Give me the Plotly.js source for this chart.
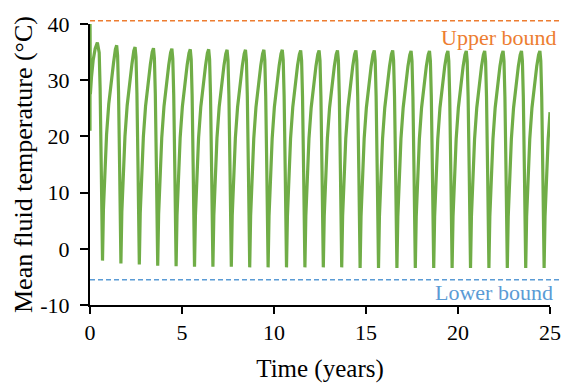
<!DOCTYPE html>
<html>
<head>
<meta charset="utf-8">
<script src="https://cdn.plot.ly/plotly-3.0.1.min.js"></script>
<style>html,body{margin:0;padding:0;background:#fff;}#chart{width:563px;height:383px;}</style>
</head>
<body>
<div id="chart"></div>
<script>
// Time in years
const time = [
 0, 0.003, 0.02, 0.08, 0.17, 0.28, 0.40,
 0.50, 0.55, 0.61, 0.68, 0.73, 0.80, 0.90, 1.02, 1.15, 1.28, 1.38, 1.45,
 1.50, 1.55, 1.61, 1.68, 1.73, 1.80, 1.90, 2.02, 2.15, 2.28, 2.38, 2.45,
 2.50, 2.55, 2.61, 2.68, 2.73, 2.80, 2.90, 3.02, 3.15, 3.28, 3.38, 3.45,
 3.50, 3.55, 3.61, 3.68, 3.73, 3.80, 3.90, 4.02, 4.15, 4.28, 4.38, 4.45,
 4.50, 4.55, 4.61, 4.68, 4.73, 4.80, 4.90, 5.02, 5.15, 5.28, 5.38, 5.45,
 5.50, 5.55, 5.61, 5.68, 5.73, 5.80, 5.90, 6.02, 6.15, 6.28, 6.38, 6.45,
 6.50, 6.55, 6.61, 6.68, 6.73, 6.80, 6.90, 7.02, 7.15, 7.28, 7.38, 7.45,
 7.50, 7.55, 7.61, 7.68, 7.73, 7.80, 7.90, 8.02, 8.15, 8.28, 8.38, 8.45,
 8.50, 8.55, 8.61, 8.68, 8.73, 8.80, 8.90, 9.02, 9.15, 9.28, 9.38, 9.45,
 9.50, 9.55, 9.61, 9.68, 9.73, 9.80, 9.90, 10.02, 10.15, 10.28, 10.38, 10.45,
 10.50, 10.55, 10.61, 10.68, 10.73, 10.80, 10.90, 11.02, 11.15, 11.28, 11.38, 11.45,
 11.50, 11.55, 11.61, 11.68, 11.73, 11.80, 11.90, 12.02, 12.15, 12.28, 12.38, 12.45,
 12.50, 12.55, 12.61, 12.68, 12.73, 12.80, 12.90, 13.02, 13.15, 13.28, 13.38, 13.45,
 13.50, 13.55, 13.61, 13.68, 13.73, 13.80, 13.90, 14.02, 14.15, 14.28, 14.38, 14.45,
 14.50, 14.55, 14.61, 14.68, 14.73, 14.80, 14.90, 15.02, 15.15, 15.28, 15.38, 15.45,
 15.50, 15.55, 15.61, 15.68, 15.73, 15.80, 15.90, 16.02, 16.15, 16.28, 16.38, 16.45,
 16.50, 16.55, 16.61, 16.68, 16.73, 16.80, 16.90, 17.02, 17.15, 17.28, 17.38, 17.45,
 17.50, 17.55, 17.61, 17.68, 17.73, 17.80, 17.90, 18.02, 18.15, 18.28, 18.38, 18.45,
 18.50, 18.55, 18.61, 18.68, 18.73, 18.80, 18.90, 19.02, 19.15, 19.28, 19.38, 19.45,
 19.50, 19.55, 19.61, 19.68, 19.73, 19.80, 19.90, 20.02, 20.15, 20.28, 20.38, 20.45,
 20.50, 20.55, 20.61, 20.68, 20.73, 20.80, 20.90, 21.02, 21.15, 21.28, 21.38, 21.45,
 21.50, 21.55, 21.61, 21.68, 21.73, 21.80, 21.90, 22.02, 22.15, 22.28, 22.38, 22.45,
 22.50, 22.55, 22.61, 22.68, 22.73, 22.80, 22.90, 23.02, 23.15, 23.28, 23.38, 23.45,
 23.50, 23.55, 23.61, 23.68, 23.73, 23.80, 23.90, 24.02, 24.15, 24.28, 24.38, 24.45,
 24.50, 24.55, 24.61, 24.68, 24.73, 24.80, 24.90, 25.00
];

// Mean fluid temperature (°C)
const temperature = [
 21, 40, 27.5, 30.5, 33.5, 35.6, 36.7,
 34.9, 28.5, 15.0, -2.1, 7.0, 13.8, 20.3, 25.8, 30.0, 33.1, 35.5, 36.2,
 34.4, 28.0, 14.6, -2.6, 6.5, 13.5, 20.0, 25.5, 29.8, 32.9, 35.2, 35.9,
 34.1, 27.7, 14.4, -2.8, 6.3, 13.4, 19.9, 25.4, 29.7, 32.8, 35.0, 35.7,
 33.9, 27.5, 14.2, -3.0, 6.1, 13.3, 19.8, 25.3, 29.6, 32.7, 34.9, 35.6,
 33.8, 27.4, 14.1, -3.1, 6.0, 13.2, 19.8, 25.3, 29.6, 32.7, 34.8, 35.5,
 33.7, 27.3, 14.0, -3.2, 5.9, 13.2, 19.7, 25.2, 29.5, 32.6, 34.8, 35.5,
 33.7, 27.3, 14.0, -3.2, 5.9, 13.2, 19.7, 25.2, 29.5, 32.6, 34.7, 35.4,
 33.6, 27.2, 13.9, -3.2, 5.9, 13.1, 19.7, 25.2, 29.5, 32.6, 34.7, 35.4,
 33.6, 27.2, 13.9, -3.3, 5.8, 13.1, 19.6, 25.2, 29.5, 32.6, 34.7, 35.4,
 33.6, 27.2, 13.9, -3.3, 5.8, 13.1, 19.6, 25.2, 29.5, 32.6, 34.7, 35.4,
 33.6, 27.2, 13.9, -3.3, 5.8, 13.1, 19.6, 25.2, 29.5, 32.6, 34.6, 35.3,
 33.5, 27.1, 13.8, -3.3, 5.8, 13.1, 19.6, 25.1, 29.4, 32.5, 34.6, 35.3,
 33.5, 27.1, 13.8, -3.3, 5.8, 13.1, 19.6, 25.1, 29.4, 32.5, 34.6, 35.3,
 33.5, 27.1, 13.8, -3.3, 5.8, 13.1, 19.6, 25.1, 29.4, 32.5, 34.6, 35.3,
 33.5, 27.1, 13.8, -3.4, 5.7, 13.0, 19.6, 25.1, 29.4, 32.5, 34.6, 35.3,
 33.5, 27.1, 13.8, -3.4, 5.7, 13.0, 19.6, 25.1, 29.4, 32.5, 34.6, 35.3,
 33.5, 27.1, 13.8, -3.4, 5.7, 13.0, 19.6, 25.1, 29.4, 32.5, 34.5, 35.2,
 33.4, 27.0, 13.7, -3.4, 5.7, 13.0, 19.5, 25.1, 29.4, 32.5, 34.5, 35.2,
 33.4, 27.0, 13.7, -3.4, 5.7, 13.0, 19.5, 25.1, 29.4, 32.5, 34.5, 35.2,
 33.4, 27.0, 13.7, -3.4, 5.7, 13.0, 19.5, 25.1, 29.4, 32.5, 34.5, 35.2,
 33.4, 27.0, 13.7, -3.4, 5.7, 13.0, 19.5, 25.1, 29.4, 32.5, 34.5, 35.2,
 33.4, 27.0, 13.7, -3.4, 5.7, 13.0, 19.5, 25.1, 29.4, 32.5, 34.5, 35.2,
 33.4, 27.0, 13.7, -3.4, 5.7, 13.0, 19.5, 25.1, 29.4, 32.5, 34.5, 35.2,
 33.4, 27.0, 13.7, -3.4, 5.7, 13.0, 19.5, 25.1, 29.4, 32.5, 34.5, 35.2,
 33.4, 27.0, 13.7, -3.4, 5.7, 13.0, 19.5, 24.3
];

const upperBound = 40.6;
const lowerBound = -5.5;
const boundLabels = ['Upper bound', 'Lower bound'];

const xTickVals = [0, 5, 10, 15, 20, 25];
const xTickText = ['0', '5', '10', '15', '20', '25'];
const yTickVals = [-10, 0, 10, 20, 30, 40];
const yTickText = ['-10', '0', '10', '20', '30', '40'];

const yMin = -10, yMax = 40;
const toPaperY = v => (v - yMin) / (yMax - yMin);

const FONT = 'Liberation Serif';

const trace = {
  x: time,
  y: temperature,
  type: 'scatter',
  mode: 'lines',
  line: {color: '#70AD47', width: 3.2},
  hoverinfo: 'x+y'
};

const layout = {
  width: 563,
  height: 383,
  margin: {l: 90, r: 13, t: 24, b: 78},
  paper_bgcolor: '#ffffff',
  plot_bgcolor: '#ffffff',
  showlegend: false,
  font: {family: FONT, size: 22, color: '#000'},
  xaxis: {
    range: [0, 25],
    tickvals: xTickVals,
    ticktext: xTickText,
    showgrid: false,
    zeroline: false,
    showline: true,
    linecolor: '#000',
    linewidth: 2,
    ticks: 'outside',
    ticklen: 7,
    tickwidth: 2,
    tickcolor: '#000',
    tickfont: {family: FONT, size: 22, color: '#000'},
    title: {text: 'Time (years)', font: {family: FONT, size: 25, color: '#000'}, standoff: 15}
  },
  yaxis: {
    range: [yMin, yMax],
    tickvals: yTickVals,
    ticktext: yTickText,
    showgrid: false,
    zeroline: false,
    showline: true,
    linecolor: '#000',
    linewidth: 2,
    ticks: 'outside',
    ticklen: 8,
    tickwidth: 2,
    tickcolor: '#000',
    ticklabelstandoff: 6,
    tickfont: {family: FONT, size: 22, color: '#000'},
    title: {text: 'Mean fluid temperature (°C)', font: {family: FONT, size: 26, color: '#000'}, standoff: 0}
  },
  shapes: [
    {type: 'line', xref: 'paper', yref: 'paper', x0: 0, x1: 1.02,
     y0: toPaperY(upperBound), y1: toPaperY(upperBound),
     line: {color: '#ED7D31', width: 1.5, dash: '5px,3px'}},
    {type: 'line', xref: 'paper', yref: 'paper', x0: 0, x1: 1.02,
     y0: toPaperY(lowerBound), y1: toPaperY(lowerBound),
     line: {color: '#5B9BD5', width: 1.5, dash: '5px,3px'}}
  ],
  annotations: [
    {text: boundLabels[0], xref: 'paper', yref: 'paper', x: 1.018, y: 0.953,
     xanchor: 'right', yanchor: 'middle', showarrow: false,
     font: {family: FONT, size: 22, color: '#ED7D31'}},
    {text: boundLabels[1], xref: 'paper', yref: 'paper', x: 1.01, y: 0.045,
     xanchor: 'right', yanchor: 'middle', showarrow: false,
     font: {family: FONT, size: 22, color: '#5B9BD5'}}
  ]
};

Plotly.newPlot('chart', [trace], layout, {displayModeBar: false, staticPlot: true});
</script>
</body>
</html>
